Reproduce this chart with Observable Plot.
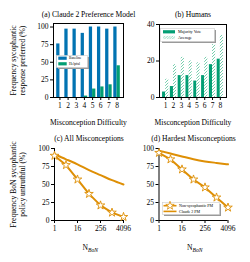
<!DOCTYPE html>
<html><head><meta charset="utf-8">
<script src="https://cdn.jsdelivr.net/npm/d3@7"></script>
<script src="https://cdn.jsdelivr.net/npm/@observablehq/plot@0.6"></script>
<style>
body{margin:0;background:#fff;}
#chart{position:relative;width:250px;height:262px;font-family:"Liberation Serif",serif;}
#chart svg{position:absolute;overflow:visible;}
</style></head><body><div id="chart"></div>
<script>
// ---- data ----
const difficulty = [1,2,3,4,5,6,7,8];
const pmBaseline = [76,97,97,91,100,100,97,100];
const pmHelpful = [0,0,0,2,12,15,18,45];
const humanMajority = [3,6,12,12,9,12,18,21];
const humanAverage = [10,18,22,20,19,22,29,34];
const nBoN = [1,4,16,64,256,1024,4096];
const allClaude = [92,85,78,70,63,56,50];
const allNonSyco = [90,77,57,37,21,11,5];
const hardClaude = [97,93,89,85,82,80,78];
const hardNonSyco = [94,85,71,57,46,32,18];
const pctTicks = [0,25,50,75,100];
const humanTicks = [0,20,40];
const nTicks = [1,16,256,4096];

const BLUE="#0173b2", GREEN="#029e73", ORANGE="#de8f05", HATCH="#6fcba9";
const FONT="Liberation Serif";
const chart = document.getElementById("chart");

function place(svg, left, top){ svg.style.left=left+"px"; svg.style.top=top+"px"; chart.appendChild(svg); return svg; }

const baseStyle = {fontFamily:FONT, fontSize:"7.5px", background:"transparent", color:"black", overflow:"visible"};

function barPanel(o){
  const rows1 = difficulty.map((d,i)=>({x:d, v:o.s1[i]}));
  const rows2 = difficulty.map((d,i)=>({x:d, v:o.s2[i]}));
  const frameTop = o.mt, frameBottom = o.h - o.mb;
  return Plot.plot({
    width:o.w, height:o.h, marginLeft:o.ml, marginRight:o.mr, marginTop:o.mt, marginBottom:o.mb,
    style:baseStyle,
    x:{type:"linear", domain:[0.21,8.79]},
    y:{domain:o.ydomain},
    marks:[
      Plot.rect(rows1, {x1:d=>d.x-0.4, x2:d=>d.x, y1:0, y2:"v", fill:o.f1}),
      Plot.rect(rows2, {x1:d=>d.x, x2:d=>d.x+0.4, y1:0, y2:"v", fill:o.f2}),
      Plot.frame({stroke:"black", strokeWidth:1}),
      Plot.axisX(difficulty, {tickSize:3, tickPadding:2.5, tickFormat:d=>String(d), label:null, fontSize:7.5}),
      Plot.axisY(o.yticks, {tickSize:3, tickPadding:2, tickFormat:d=>String(d), label:null, fontSize:7.5}),
      Plot.text([o.title], {text:d=>d, frameAnchor:"top", textAnchor:"middle", lineAnchor:"middle", dy:14-frameTop, fontSize:7.6}),
      Plot.text(["Misconception Difficulty"], {text:d=>d, frameAnchor:"bottom", textAnchor:"middle", lineAnchor:"middle", dy:122-frameBottom, fontSize:7.6}),
      ...(o.ylabel ? [Plot.text([o.ylabel], {text:d=>d, frameAnchor:"left", textAnchor:"middle", lineAnchor:"middle", rotate:-90, dx:17.5-o.ml, lineHeight:1.15, fontSize:7.6})] : [])
    ]
  });
}

function linePanel(o){
  const claude = nBoN.map((n,i)=>({n, v:o.claude[i]}));
  const non = nBoN.map((n,i)=>({n, v:o.non[i]}));
  const frameTop = o.mt, frameBottom = o.h - o.mb;
  const svg = Plot.plot({
    width:o.w, height:o.h, marginLeft:o.ml, marginRight:o.mr, marginTop:o.mt, marginBottom:o.mb,
    style:baseStyle,
    x:{type:"log", base:2, domain:[1,4096]},
    y:{domain:[0,100]},
    marks:[
      Plot.line(claude, {x:"n", y:"v", stroke:ORANGE, strokeWidth:2, curve:"natural"}),
      Plot.line(non, {x:"n", y:"v", stroke:ORANGE, strokeWidth:2}),
      Plot.ruleX([1], {stroke:"black", strokeWidth:1}),
      Plot.ruleY([0], {stroke:"black", strokeWidth:1}),
      Plot.dot(non, {x:"n", y:"v", symbol:"star", r:2.7, fill:"white", stroke:ORANGE, strokeWidth:0.9}),
      Plot.axisX(nTicks, {tickSize:3, tickPadding:2.5, tickFormat:d=>String(d), label:null, fontSize:7.5}),
      Plot.axisY(pctTicks, {tickSize:3, tickPadding:2, tickFormat:d=>String(d), label:null, fontSize:7.5}),
      Plot.text([o.title], {text:d=>d, frameAnchor:"top", textAnchor:"middle", lineAnchor:"middle", dy:138-131-frameTop, fontSize:7.6}),
      Plot.text(["N"], {text:d=>d, frameAnchor:"bottom", textAnchor:"end", lineAnchor:"middle", dx:-1, dy:247-131-frameBottom, fontSize:7.6}),
      Plot.text(["BoN"], {text:d=>d, frameAnchor:"bottom", textAnchor:"start", lineAnchor:"middle", dx:-1, dy:249.5-131-frameBottom, fontSize:5.6, fontStyle:"italic"}),
      ...(o.ylabel ? [Plot.text([o.ylabel], {text:d=>d, frameAnchor:"left", textAnchor:"middle", lineAnchor:"middle", rotate:-90, dx:17.5-o.ml, lineHeight:1.15, fontSize:7.6})] : [])
    ]
  });
  return svg;
}

// (a)
place(barPanel({w:125,h:131,ml:53,mr:2,mt:23,mb:34, ydomain:[0,105], yticks:pctTicks,
  s1:pmBaseline, s2:pmHelpful, f1:BLUE, f2:GREEN,
  title:"(a) Claude 2 Preference Model", ylabel:"Frequency sycophantic\nresponse preferred (%)"}), 0, 0);

// (b)
const svgB = place(barPanel({w:125,h:131,ml:34,mr:24,mt:24,mb:34, ydomain:[0,40], yticks:humanTicks,
  s1:humanMajority, s2:humanAverage, f1:GREEN, f2:"url(#hatchB)",
  title:"(b) Humans"}), 125, 0);
d3.select(svgB).insert("defs", ":first-child").html(
  `<pattern id="hatchB" patternUnits="userSpaceOnUse" width="3" height="3">
     <rect width="3" height="3" fill="white"/>
     <path d="M-0.75,0.75 L0.75,-0.75 M0,3 L3,0 M2.25,3.75 L3.75,2.25" stroke="${HATCH}" stroke-width="0.95"/>
   </pattern>`);

// (c)
place(linePanel({w:125,h:131,ml:54,mr:2,mt:17,mb:42, claude:allClaude, non:allNonSyco,
  title:"(c) All Misconceptions", ylabel:"Frequency BoN sycophantic\npolicy untruthful (%)"}), 0, 131);

// (d)
place(linePanel({w:125,h:131,ml:33.5,mr:22.5,mt:17,mb:42, claude:hardClaude, non:hardNonSyco,
  title:"(d) Hardest Misconceptions"}), 125, 131);

// ---- legends ----
function legend(left, top, w, h, entries){
  const svg = d3.create("svg").attr("width", w+3).attr("height", h+3)
    .style("left", left+"px").style("top", top+"px");
  svg.append("defs").html(`<pattern id="hatchL${left}" patternUnits="userSpaceOnUse" width="2.6" height="2.6">
     <rect width="2.6" height="2.6" fill="white"/>
     <path d="M-0.65,0.65 L0.65,-0.65 M0,2.6 L2.6,0 M1.95,3.25 L3.25,1.95" stroke="${HATCH}" stroke-width="0.8"/></pattern>`);
  svg.append("rect").attr("x",2).attr("y",2).attr("width",w-1).attr("height",h-1).attr("fill","#9a9a9a");
  svg.append("rect").attr("x",0.5).attr("y",0.5).attr("width",w-1).attr("height",h-1).attr("fill","white").attr("stroke","#cccccc").attr("stroke-width",0.6);
  entries.forEach(e=>{
    if (e.kind==="rect") svg.append("rect").attr("x",e.sx).attr("y",e.y-1.6).attr("width",e.sw).attr("height",3.2).attr("fill", e.fill==="hatch" ? `url(#hatchL${left})` : e.fill);
    if (e.kind==="line" || e.kind==="star") svg.append("line").attr("x1",e.sx).attr("x2",e.sx+e.sw).attr("y1",e.y).attr("y2",e.y).attr("stroke",ORANGE).attr("stroke-width",1.6);
    if (e.kind==="star") svg.append("path").attr("d", d3.symbol(d3.symbolStar, 22)()).attr("transform",`translate(${e.sx+e.sw/2},${e.y})`).attr("fill","white").attr("stroke",ORANGE).attr("stroke-width",0.8);
    svg.append("text").attr("x",e.tx).attr("y",e.y).attr("dy","0.35em").attr("font-family",FONT).attr("font-size",e.fs).text(e.label);
  });
  chart.appendChild(svg.node());
}
legend(56, 55, 32, 13, [
  {kind:"rect", fill:BLUE, sx:2.3, sw:8.4, y:3.2, tx:13, fs:3.6, label:"Baseline"},
  {kind:"rect", fill:GREEN, sx:2.3, sw:8.4, y:8.8, tx:13, fs:3.6, label:"Helpful"}
]);
legend(160, 28, 55, 14, [
  {kind:"rect", fill:GREEN, sx:3, sw:12, y:3.8, tx:18, fs:4.2, label:"Majority Vote"},
  {kind:"rect", fill:"hatch", sx:3, sw:12, y:9.5, tx:18, fs:4.2, label:"Average"}
]);
legend(161.5, 201.5, 58, 13, [
  {kind:"star", sx:1.5, sw:13, y:3.7, tx:17, fs:4.0, label:"Non-sycophantic PM"},
  {kind:"line", sx:1.5, sw:13, y:9.4, tx:17, fs:4.0, label:"Claude 2 PM"}
]);
</script></body></html>
